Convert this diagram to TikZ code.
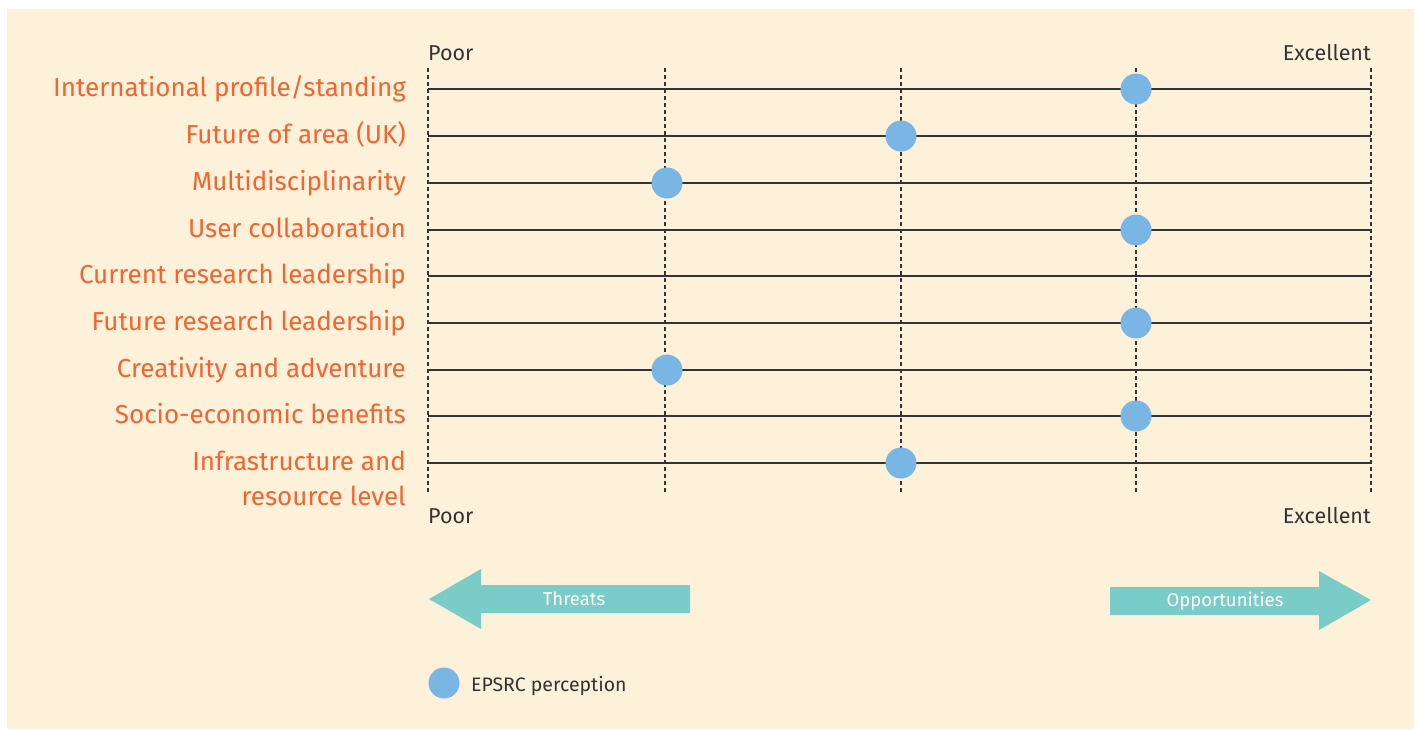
\documentclass[tikz,border=0pt]{standalone}
\usepackage{fontspec}
\setmainfont{Fira Sans}
\definecolor{cream}{HTML}{FEF1D9}
\definecolor{roworange}{HTML}{F26430}
\definecolor{dotblue}{HTML}{7AB6E4}
\definecolor{arrowteal}{HTML}{7ACCC8}
\definecolor{scalegray}{HTML}{333333}
\tikzset{
  rowlabel/.style={anchor=base east, inner sep=0pt, text=roworange, font=\fontsize{26}{30}\selectfont},
  scalelabel/.style={inner sep=0pt, text=scalegray, font=\fontsize{21.5}{24}\selectfont},
  perception/.style={circle, fill=dotblue, minimum size=31pt, inner sep=0pt},
  gridline/.style={line width=1.3pt, scalegray},
  tickline/.style={line width=1.2pt, scalegray, dash pattern=on 4pt off 3pt},
  arrowtext/.style={text=white, font=\fontsize{18.5}{20}\selectfont}
}
\begin{document}
\begin{tikzpicture}[x=1pt,y=-1pt]
                \useasboundingbox (0,0) rectangle (1418,729);
                \fill[cream] (7,9) rectangle (1414,729);
                % dashed scale marks
                \foreach \x [count=\i] in {428,665,901,1136,1371} {
                    \coordinate (T\i) at (\x,68);
                    \coordinate (B\i) at (\x,493);
                    \draw[tickline] (T\i) -- (B\i);
                }
                % one line per criterion
                \foreach \y [count=\i] in {89,136,183,230,276,323,370,416,463} {
                    \coordinate (L\i) at (428,\y);
                    \coordinate (R\i) at (1371,\y);
                    \draw[gridline] (L\i) -- (R\i);
                }
                \node[rowlabel] (intl) at (406,96) {International profile/standing};
                \node[rowlabel] (future) at (406,143) {Future of area (UK)};
                \node[rowlabel] (multi) at (406,190) {Multidisciplinarity};
                \node[rowlabel] (user) at (406,237) {User collaboration};
                \node[rowlabel] (curlead) at (406,283) {Current research leadership};
                \node[rowlabel] (futlead) at (406,330) {Future research leadership};
                \node[rowlabel] (creative) at (406,377) {Creativity and adventure};
                \node[rowlabel] (socio) at (406,423) {Socio-economic benefits};
                \node[rowlabel] (infra) at (406,470) {Infrastructure and};
                \node[rowlabel] (resource) at (406,505) {resource level};
                % scale ends
                \node[scalelabel, anchor=base west] (poortop) at (428,60) {Poor};
                \node[scalelabel, anchor=base east] (exctop) at (1371,60) {Excellent};
                \node[scalelabel, anchor=base west] (poorbot) at (428,523) {Poor};
                \node[scalelabel, anchor=base east] (excbot) at (1371,523) {Excellent};
                % EPSRC ratings
                \node[perception] (p1) at (1136,89) {};
                \node[perception] (p2) at (901,136) {};
                \node[perception] (p3) at (667,183) {};
                \node[perception] (p4) at (1136,230) {};
                \node[perception] (p6) at (1136,323) {};
                \node[perception] (p7) at (667,370) {};
                \node[perception] (p8) at (1136,416) {};
                \node[perception] (p9) at (901,463) {};
                % threats / opportunities
                \fill[arrowteal] (429,599) -- (481,569) -- (481,585) -- (690,585)
                    -- (690,613) -- (481,613) -- (481,629) -- cycle;
                \node[arrowtext] (threats) at (574,599) {Threats};
                \fill[arrowteal] (1371,600) -- (1319,571) -- (1319,587) -- (1110,587)
                    -- (1110,615) -- (1319,615) -- (1319,630) -- cycle;
                \node[arrowtext] (opps) at (1225,601) {Opportunities};
                % legend
                \node[perception] (key) at (444,683) {};
                \node[anchor=west, inner sep=0pt, text=scalegray, font=\fontsize{19.5}{22}\selectfont] (keytext) at (471,686) {EPSRC perception};
\end{tikzpicture}
\end{document}
